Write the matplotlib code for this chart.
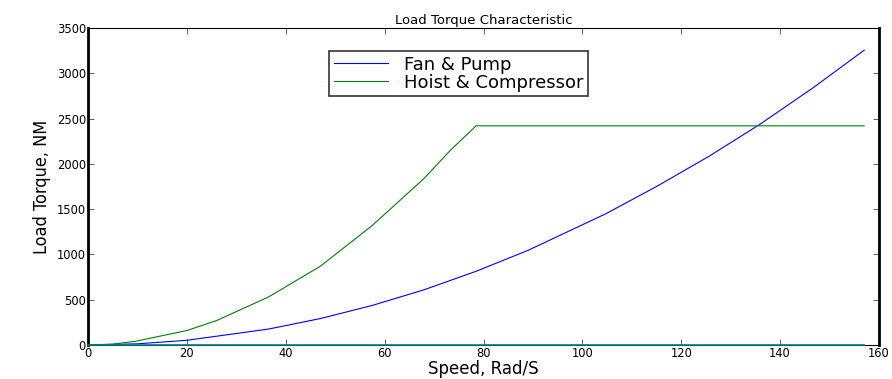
import matplotlib.pyplot as plt
from matplotlib import font_manager

# Fan & pump (torque ~ speed^2)
fanSpeed = [0, 10, 20, 36.5, 47, 57.5, 68, 78.5, 89, 104.7, 115, 125.6, 136, 146.8, 157]
fanTorque = [0, 13, 52, 176, 292, 437, 610, 814, 1045, 1448, 1750, 2083, 2440, 2845, 3255]

# Hoist & compressor, flat after ~78.5 rad/s
hoistSpeed = [0, 5, 9.5, 20, 26, 36.5, 47, 57.5, 68, 73.3, 78.5, 157]
hoistTorque = [0, 10, 40, 160, 270, 530, 870, 1320, 1840, 2150, 2420, 2420]

# zero line along the bottom
zeroSpeed = [0, 157]
zeroTorque = [0, 0]

xTicks = [0, 20, 40, 60, 80, 100, 120, 140, 160]
yTicks = [0, 500, 1000, 1500, 2000, 2500, 3000, 3500]

# look for a narrow font for the y label, else fall back to DejaVu
narrow = [f.name for f in font_manager.fontManager.ttflist
          if 'Narrow' in f.name or 'Condensed' in f.name or f.stretch in ('condensed', 'semi-condensed')]
yFamily = narrow[:1] + ['DejaVu Sans']
ySize = 13 if narrow else 11.5

fig = plt.figure(figsize=(8.92, 3.79), dpi=100)
ax = fig.add_axes([0.0987, 0.0897, 0.8867, 0.8364])

ax.plot(fanSpeed, fanTorque, color='#0000ff', lw=0.8, label='Fan & Pump')
ax.plot(hoistSpeed, hoistTorque, color='#008000', lw=0.8, label='Hoist & Compressor')
ax.plot(zeroSpeed, zeroTorque, color='#008080', lw=1.2, zorder=5, clip_on=False)

ax.set_xlim(0, 160)
ax.set_ylim(0, 3500)
ax.set_xticks(xTicks)
ax.set_yticks(yTicks)
ax.tick_params(direction='in', length=4, width=0.6, labelsize=8.3, colors='#444444',
               labelcolor='black', top=True, right=True, pad=1.5)

ax.spines['left'].set_linewidth(2)
ax.spines['right'].set_linewidth(2)
ax.spines['top'].set_linewidth(0.8)
ax.spines['bottom'].set_linewidth(0.8)

ax.set_title('Load Torque Characteristic', fontsize=9.5, pad=3)
ax.set_xlabel('Speed, Rad/S', fontsize=12, labelpad=0)
ax.set_ylabel('Load Torque, NM', fontsize=ySize, labelpad=4,
              family=yFamily, fontstretch='condensed')

leg = ax.legend(loc='upper left', bbox_to_anchor=(0.305, 0.927), fontsize=13,
                frameon=True, fancybox=False, handlelength=3.0, handletextpad=0.9,
                borderpad=0.25, labelspacing=0.0, borderaxespad=0)
leg.get_frame().set_edgecolor('black')
leg.get_frame().set_linewidth(1.2)

fig.savefig('out.png', dpi=100)
